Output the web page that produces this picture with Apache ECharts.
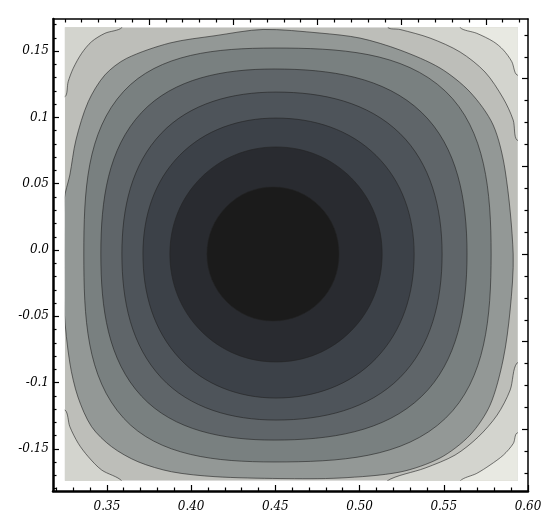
<!DOCTYPE html>
<html>
<head>
<meta charset="utf-8">
<script src="https://cdn.jsdelivr.net/npm/echarts@6/dist/echarts.min.js"></script>
<style>
  html, body { margin: 0; padding: 0; background: #fff; }
  #chart { width: 546px; height: 523px; }
</style>
</head>
<body>
<div id="chart"></div>
<script>
// tick positions and labels
const xMajorTicks = [0.35, 0.40, 0.45, 0.50, 0.55, 0.60];
const xTickLabels = ['0.35', '0.40', '0.45', '0.50', '0.55', '0.60'];
const xMinorTicks = [0.32, 0.33, 0.34, 0.36, 0.37, 0.38, 0.39, 0.41, 0.42, 0.43, 0.44, 0.46, 0.47, 0.48, 0.49, 0.51, 0.52, 0.53, 0.54, 0.56, 0.57, 0.58, 0.59];
const yMajorTicks = [-0.15, -0.1, -0.05, 0, 0.05, 0.1, 0.15];
const yTickLabels = ['-0.15', '-0.1', '-0.05', '0.0', '0.05', '0.1', '0.15'];
const yMinorTicks = [-0.18, -0.17, -0.16, -0.14, -0.13, -0.12, -0.11, -0.09, -0.08, -0.07, -0.06, -0.04, -0.03, -0.02, -0.01, 0.01, 0.02, 0.03, 0.04, 0.06, 0.07, 0.08, 0.09, 0.11, 0.12, 0.13, 0.14, 0.16, 0.17];
const topMajorTicks = [0.375, 0.425, 0.475, 0.525, 0.575];
const topMinorTicks = [0.325, 0.335, 0.345, 0.355, 0.365, 0.385, 0.395, 0.405, 0.415, 0.435, 0.445, 0.455, 0.465, 0.485, 0.495, 0.505, 0.515, 0.535, 0.545, 0.555, 0.565, 0.585, 0.595];
const rightMajorTicks = [0.1292, 0.0631, -0.003, -0.0691, -0.1352];
const rightMinorTicks = [0.1622, 0.1457, 0.1127, 0.0962, 0.0796, 0.0466, 0.0300, 0.0135, -0.0195, -0.0360, -0.0526, -0.0856, -0.1021, -0.1187, -0.1517, -0.1683];

// region covered by the contour plot
const xDomain = [0.325, 0.594];
const yDomain = [-0.174, 0.168];

// contour lines (x, y)
// corner pieces start on the top/bottom edge and end on the left/right edge
const cornerTR0 = [[0.5597, 0.1678], [0.5696, 0.1634], [0.5795, 0.1571], [0.5854, 0.1508], [0.5904, 0.1420], [0.5935, 0.1320]];
const cornerBR0 = [[0.5597, -0.1742], [0.5696, -0.1684], [0.5775, -0.1621], [0.5854, -0.1546], [0.5913, -0.1458], [0.5935, -0.1380]];
const cornerTL1 = [[0.3589, 0.1678], [0.3488, 0.1634], [0.3409, 0.1571], [0.3350, 0.1483], [0.3300, 0.1370], [0.3270, 0.1269], [0.3251, 0.1156]];
const cornerBL1 = [[0.3589, -0.1742], [0.3469, -0.1659], [0.3389, -0.1558], [0.3330, -0.1458], [0.3280, -0.1332], [0.3251, -0.1206]];
const cornerTR1 = [[0.5169, 0.1678], [0.5240, 0.1663], [0.5419, 0.1598], [0.5597, 0.1493], [0.5745, 0.1342], [0.5852, 0.1146], [0.5912, 0.0980], [0.5935, 0.0829]];
const cornerBR1 = [[0.5163, -0.1742], [0.5389, -0.1644], [0.5567, -0.1546], [0.5704, -0.1410], [0.5817, -0.1244], [0.5894, -0.1056], [0.5935, -0.0852]];

// closed contours, outer to inner
const ring3 = [[0.3245, -0.0030], [0.3246, 0.0377], [0.3280, 0.0566], [0.3316, 0.0829], [0.3389, 0.1118], [0.3488, 0.1320], [0.3617, 0.1445], [0.3874, 0.1561], [0.4142, 0.1616], [0.4427, 0.1663], [0.4765, 0.1636], [0.5003, 0.1598], [0.5240, 0.1508], [0.5478, 0.1372], [0.5656, 0.1191], [0.5793, 0.0943], [0.5864, 0.0603], [0.5912, -0.0030], [0.5894, -0.0452], [0.5852, -0.0829], [0.5775, -0.1169], [0.5656, -0.1395], [0.5478, -0.1568], [0.5240, -0.1674], [0.4884, -0.1719], [0.4528, -0.1723], [0.4142, -0.1709], [0.3884, -0.1672], [0.3684, -0.1596], [0.3528, -0.1483], [0.3409, -0.1332], [0.3328, -0.1108], [0.3280, -0.0852], [0.3246, -0.0452]];
const ring4 = [[0.3363, -0.0030], [0.3600, 0.1197], [0.4492, 0.1523], [0.5510, 0.1197], [0.5781, -0.0030], [0.5510, -0.1269], [0.4492, -0.1598], [0.3600, -0.1269]];
const ring5 = [[0.3464, -0.0030], [0.3706, 0.1037], [0.4492, 0.1365], [0.5369, 0.1037], [0.5638, -0.0030], [0.5369, -0.1103], [0.4492, -0.1433], [0.3706, -0.1103]];
const ring6 = [[0.3589, -0.0030], [0.3823, 0.0880], [0.4504, 0.1191], [0.5239, 0.0880], [0.5490, -0.0030], [0.5239, -0.0963], [0.4504, -0.1282], [0.3823, -0.0963]];
const ring7 = [[0.3714, -0.0030], [0.3931, 0.0713], [0.4504, 0.0995], [0.5098, 0.0713], [0.5324, -0.0030], [0.5098, -0.0817], [0.4504, -0.1116], [0.3931, -0.0817]];
const ring8 = [[0.3874, -0.0030], [0.4057, 0.0543], [0.4504, 0.0777], [0.4951, 0.0543], [0.5134, -0.0030], [0.4951, -0.0608], [0.4504, -0.0844], [0.4057, -0.0608]];
const ring9 = [[0.4094, -0.0030], [0.4210, 0.0327], [0.4486, 0.0475], [0.4765, 0.0327], [0.4878, -0.0030], [0.4765, -0.0388], [0.4486, -0.0535], [0.4210, -0.0388]];

// grey shades, lowest level first
const shades = ['#e8e9e2', '#d3d4ce', '#bdbeb9', '#939896', '#798080', '#5f6569', '#4e545a', '#3c4148', '#292b30', '#1b1b1b'];
const lineColor = 'rgba(35,35,35,0.6)';

// close a corner piece through points outside the plot (clipped later)
function cornerShape(line, corner) {
  const pad = 0.01;
  const vx = corner[1] === 'l' ? xDomain[0] - pad : xDomain[1] + pad;
  const hy = corner[0] === 't' ? yDomain[1] + pad : yDomain[0] - pad;
  const first = line[0];
  const last = line[line.length - 1];
  return [[first[0], hy]].concat(line, [[vx, last[1]], [vx, hy]]);
}

const layers = [
  { points: [[xDomain[0], yDomain[0]], [xDomain[0], yDomain[1]], [xDomain[1], yDomain[1]], [xDomain[1], yDomain[0]]], fill: shades[2], line: false, smooth: 0 },
  { points: cornerShape(cornerTL1, 'tl'), fill: shades[1], line: true, smooth: 0.3 },
  { points: cornerShape(cornerBL1, 'bl'), fill: shades[1], line: true, smooth: 0.3 },
  { points: cornerShape(cornerTR1, 'tr'), fill: shades[1], line: true, smooth: 0.3 },
  { points: cornerShape(cornerBR1, 'br'), fill: shades[1], line: true, smooth: 0.3 },
  { points: cornerShape(cornerTR0, 'tr'), fill: shades[0], line: true, smooth: 0.3 },
  { points: cornerShape(cornerBR0, 'br'), fill: shades[0], line: true, smooth: 0.3 },
  { points: ring3, fill: shades[3], line: true, smooth: 0.3 },
  { points: ring4, fill: shades[4], line: true, smooth: 0.38 },
  { points: ring5, fill: shades[5], line: true, smooth: 0.38 },
  { points: ring6, fill: shades[6], line: true, smooth: 0.38 },
  { points: ring7, fill: shades[7], line: true, smooth: 0.38 },
  { points: ring8, fill: shades[8], line: true, smooth: 0.38 },
  { points: ring9, fill: shades[9], line: true, smooth: 0.38 }
];

function renderLayer(params, api) {
  const layer = layers[params.dataIndex];
  const a = api.coord([xDomain[0], yDomain[1]]);
  const b = api.coord([xDomain[1], yDomain[0]]);
  return {
    type: 'polygon',
    shape: { points: layer.points.map(p => api.coord(p)), smooth: layer.smooth },
    style: { fill: layer.fill, stroke: layer.line ? lineColor : 'none', lineWidth: 1 },
    clipPath: { type: 'rect', shape: { x: a[0], y: a[1], width: b[0] - a[0], height: b[1] - a[1] } }
  };
}

function labelFor(v, ticks, labels) {
  const i = ticks.findIndex(t => Math.abs(t - v) < 1e-6);
  return i < 0 ? '' : labels[i];
}

const xMin = 0.318, xMax = 0.6, yMin = -0.1817, yMax = 0.1742;
const tickStyle = { color: '#000', width: 1.2 };
const labelFont = { fontFamily: 'DejaVu Serif', fontStyle: 'italic', fontSize: 12, color: '#000' };

function frameAxis(position, min, max, major, minor, lineWidth, labels, margin) {
  return [
    {
      type: 'value', position, min, max,
      axisLine: { onZero: false, lineStyle: { color: '#000', width: lineWidth } },
      axisTick: { inside: true, length: 6, customValues: major, lineStyle: tickStyle },
      axisLabel: labels ? Object.assign({ customValues: major, margin, formatter: v => labelFor(v, major, labels) }, labelFont) : { show: false },
      splitLine: { show: false }
    },
    {
      type: 'value', position, min, max,
      axisLine: { show: false, onZero: false },
      axisTick: { inside: true, length: 3.5, customValues: minor, lineStyle: tickStyle },
      axisLabel: { show: false },
      splitLine: { show: false }
    }
  ];
}

const chart = echarts.init(document.getElementById('chart'));
chart.setOption({
  animation: false,
  backgroundColor: '#fff',
  grid: { left: 53, right: 18, top: 19, bottom: 32 },
  xAxis: frameAxis('bottom', xMin, xMax, xMajorTicks, xMinorTicks, 2.5, xTickLabels, 10)
    .concat(frameAxis('top', xMin, xMax, topMajorTicks, topMinorTicks, 1.5, null, 0)),
  yAxis: frameAxis('left', yMin, yMax, yMajorTicks, yMinorTicks, 2.5, yTickLabels, 4)
    .concat(frameAxis('right', yMin, yMax, rightMajorTicks, rightMinorTicks, 1.5, null, 0)),
  series: [{
    type: 'custom',
    coordinateSystem: 'cartesian2d',
    xAxisIndex: 0,
    yAxisIndex: 0,
    silent: true,
    renderItem: renderLayer,
    data: layers.map(() => [0.45, 0])
  }]
});
</script>
</body>
</html>
